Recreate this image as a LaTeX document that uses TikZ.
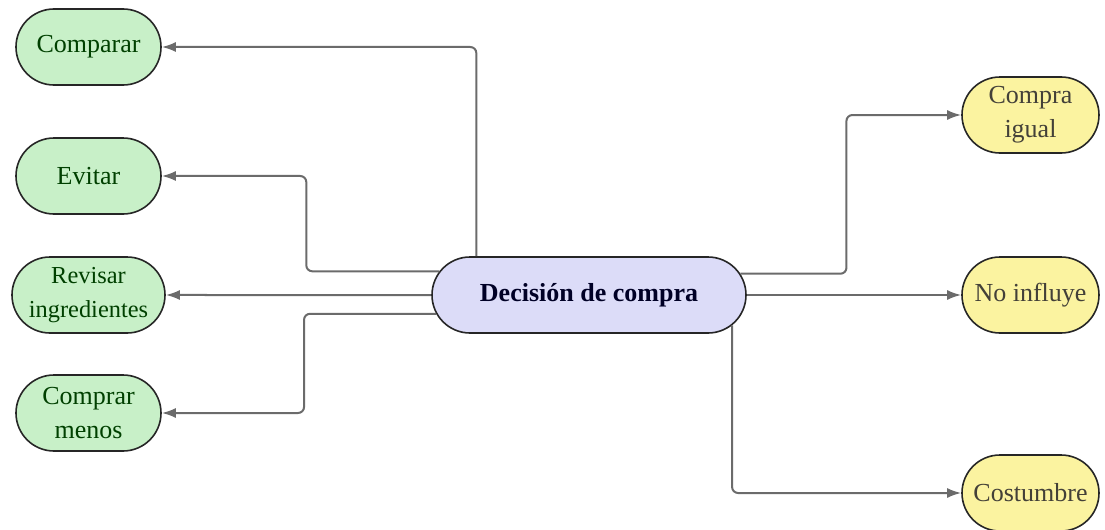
\documentclass[tikz,border=0pt]{standalone}
\usepackage{fontspec}
\setmainfont{Liberation Serif}
\usepackage{xcolor}
\usepackage{tikz}
\usetikzlibrary{shapes.misc,arrows.meta}

\definecolor{leafgreen}{HTML}{C8F0C8}
\definecolor{leafyellow}{HTML}{FBF3A0}
\definecolor{rootblue}{HTML}{DCDCF8}
\definecolor{linkgray}{HTML}{6B6B6B}

\tikzset{
    pill/.style={shape=rounded rectangle,draw=black!85,line width=0.8pt,
        minimum height=38pt,inner sep=2pt,align=center,
        font=\fontsize{13}{17}\selectfont},
    greenpill/.style={pill,fill=leafgreen,text=green!25!black,minimum width=76.5pt},
    yellowpill/.style={pill,fill=leafyellow,text=black!85!yellow,minimum width=72.5pt},
    rootpill/.style={pill,fill=rootblue,text=blue!15!black,minimum width=161pt,
        font=\fontsize{13}{17}\selectfont\bfseries},
    link/.style={draw=linkgray,line width=1pt,rounded corners=3pt,
        -{Latex[length=7pt,width=5pt]}}
}

\begin{document}
\begin{tikzpicture}[x=0.5pt,y=-0.5pt]
    \useasboundingbox (0,0) rectangle (1105,530);

    \node[rootpill] (dec) at (589,295) {Decisión de compra};

    \node[greenpill] (comparar) at (88.5,47) {Comparar};
    \node[greenpill] (evitar) at (88.5,176) {Evitar};
    \node[greenpill,inner xsep=0pt,font=\fontsize{12.2}{17}\selectfont]
        (revisar) at (88.5,295) {Revisar\\ingredientes};
    \node[greenpill] (menos) at (88.5,413) {Comprar\\menos};

    \node[yellowpill] (igual) at (1030.5,115) {Compra\\igual};
    \node[yellowpill] (noinf) at (1030.5,295) {No influye};
    \node[yellowpill] (costumbre) at (1030.5,493) {Costumbre};

    \draw[link] (dec.161) |- (comparar);
    \draw[link] (dec.171) -- +(-133,0) |- (evitar);
    \draw[link] (dec.west) -- (revisar);
    \draw[link] (dec.187) -- +(-132,0) |- (menos);

    \draw[link] (dec.8.5) -- +(106,0) |- (igual);
    \draw[link] (dec.east) -- (noinf);
    \draw[link] (dec.-12) |- (costumbre);
\end{tikzpicture}
\end{document}
